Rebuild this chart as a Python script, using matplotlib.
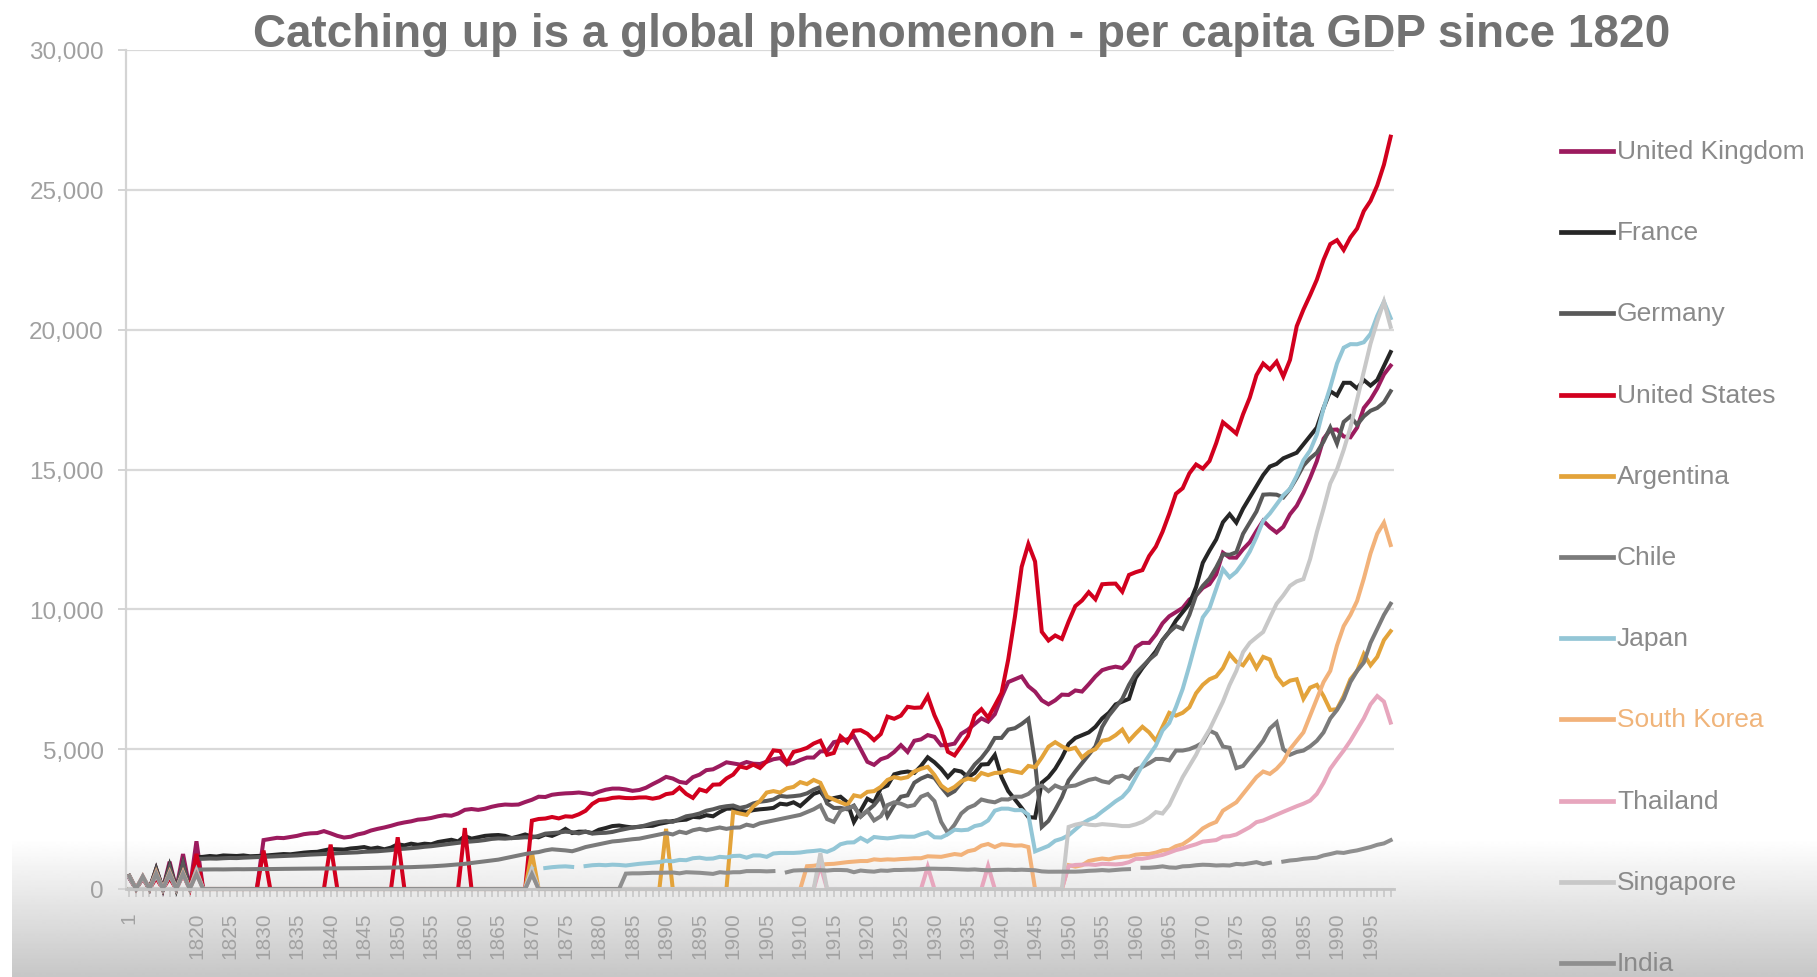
import numpy as np
import matplotlib.pyplot as plt
from matplotlib.lines import Line2D
from matplotlib.patches import Rectangle

plt.rcParams['font.family'] = ['Liberation Sans', 'DejaVu Sans']

# categories: a few early benchmark years, then annual 1820-1998
early_years = ['1', '', '1000', '', '1500', '', '1600', '', '1700', '']
years = early_years + [str(y) for y in range(1820, 1999)]

nan = np.nan
z = [0]  # empty cells in the sheet are plotted as zero

uk = ([400, 0, 400, 0, 714, 0, 974, 0, 1250, 0]
      + [1706] + z * 9
      + [1749, 1790, 1830, 1820, 1860, 1900, 1960, 1990, 2000, 2070]
      + [1990, 1900, 1840, 1870, 1950, 2000, 2090, 2150, 2200, 2260]
      + [2330, 2380, 2420, 2480, 2500, 2540, 2600, 2640, 2620, 2700]
      + [2830, 2860, 2830, 2870, 2940, 2990, 3020, 3010, 3020, 3110]
      + [3190, 3300, 3290, 3370, 3400, 3420, 3430, 3450, 3420, 3380]
      + [3477, 3550, 3590, 3590, 3560, 3510, 3540, 3620, 3750, 3870]
      + [4009, 3950, 3830, 3790, 4000, 4090, 4250, 4280, 4400, 4530]
      + [4492, 4450, 4540, 4480, 4470, 4550, 4640, 4680, 4470, 4500]
      + [4611, 4700, 4700, 4921, 4927, 5250, 5300, 5350, 5459, 5000]
      + [4548, 4439, 4640, 4720, 4900, 5144, 4900, 5300, 5350, 5503]
      + [5441, 5138, 5148, 5200, 5550, 5700, 5900, 6100, 5983, 6250]
      + [6856, 7400, 7500, 7600, 7250, 7056, 6746, 6604, 6746, 6950]
      + [6939, 7100, 7060, 7320, 7600, 7825, 7900, 7950, 7900, 8150]
      + [8645, 8800, 8800, 9100, 9500, 9752, 9900, 10050, 10350, 10500]
      + [10767, 10900, 11250, 12025, 11850, 11847, 12150, 12400, 12800, 13167]
      + [12931, 12747, 12950, 13400, 13700, 14165, 14700, 15300, 16100, 16414]
      + [16430, 16180, 16150, 16500, 17200, 17500, 17900, 18400, 18714])

france = ([473, 0, 425, 0, 727, 0, 841, 0, 910, 0]
          + [1135, 1150, 1180, 1160, 1200, 1190, 1180, 1200, 1170, 1180]
          + [1190, 1210, 1230, 1250, 1240, 1270, 1300, 1320, 1330, 1380]
          + [1428, 1420, 1410, 1450, 1470, 1500, 1440, 1480, 1420, 1480]
          + [1597, 1560, 1620, 1580, 1620, 1600, 1680, 1720, 1760, 1700]
          + [1892, 1800, 1850, 1900, 1920, 1930, 1900, 1820, 1880, 1950]
          + [1876, 1850, 1950, 1900, 2000, 2150, 2000, 2050, 2050, 2000]
          + [2120, 2180, 2250, 2270, 2230, 2200, 2230, 2250, 2260, 2330]
          + [2376, 2430, 2460, 2480, 2580, 2560, 2640, 2600, 2750, 2870]
          + [2876, 2800, 2760, 2820, 2850, 2870, 2900, 3050, 3020, 3100]
          + [2965, 3180, 3400, 3485, 3160, 3250, 3300, 3100, 2396, 2800]
          + [3227, 3100, 3600, 3700, 4100, 4166, 4200, 4150, 4400, 4710]
          + [4532, 4300, 4000, 4250, 4200, 4000, 4150, 4450, 4466, 4793]
          + [4000, 3500, 3200, 2900, 2573, 2550, 3800, 4000, 4300, 4700]
          + [5186, 5400, 5500, 5600, 5800, 6100, 6300, 6600, 6700, 6800]
          + [7546, 7900, 8200, 8500, 8900, 9200, 9600, 9900, 10200, 10800]
          + [11664, 12100, 12500, 13114, 13400, 13100, 13600, 14000, 14400, 14800]
          + [15106, 15200, 15400, 15500, 15600, 15900, 16200, 16500, 17200, 17800]
          + [17647, 18100, 18100, 17900, 18200, 18000, 18200, 18700, 19200])

germany = ([408, 0, 410, 0, 688, 0, 791, 0, 910, 0]
           + [1077, 1080, 1090, 1085, 1100, 1110, 1105, 1120, 1130, 1140]
           + [1150, 1160, 1170, 1180, 1190, 1200, 1215, 1230, 1240, 1250]
           + [1260, 1280, 1290, 1300, 1310, 1330, 1340, 1350, 1370, 1390]
           + [1428, 1440, 1460, 1480, 1510, 1530, 1560, 1590, 1620, 1650]
           + [1680, 1700, 1720, 1750, 1790, 1810, 1800, 1820, 1830, 1850]
           + [1839, 1900, 1980, 2000, 2020, 2050, 2030, 1990, 2050, 1980]
           + [2000, 2010, 2040, 2100, 2150, 2200, 2220, 2280, 2350, 2400]
           + [2428, 2400, 2500, 2600, 2640, 2700, 2800, 2850, 2920, 2960]
           + [2985, 2900, 2950, 3060, 3120, 3150, 3200, 3330, 3300, 3320]
           + [3348, 3420, 3550, 3648, 3059, 2900, 2900, 2850, 2983, 2586]
           + [2796, 3000, 3300, 2600, 3000, 3300, 3350, 3800, 3950, 4051]
           + [3973, 3652, 3362, 3500, 3800, 4120, 4450, 4685, 4994, 5400]
           + [5403, 5700, 5750, 5900, 6084, 4514, 2217, 2436, 2834, 3282]
           + [3881, 4200, 4500, 4800, 5100, 5797, 6200, 6500, 6800, 7300]
           + [7705, 7950, 8200, 8400, 8900, 9186, 9400, 9300, 9800, 10500]
           + [10839, 11100, 11500, 11966, 11950, 12041, 12700, 13100, 13500, 14100]
           + [14114, 14100, 14000, 14300, 14700, 15140, 15400, 15600, 16000, 16500]
           + [15929, 16700, 16900, 16600, 16900, 17100, 17200, 17400, 17799])

usa = ([400, 0, 400, 0, 400, 0, 400, 0, 527, 0]
       + [1257] + z * 9 + [1376] + z * 9 + [1588] + z * 9
       + [1849] + z * 9 + [2178] + z * 9
       + [2445, 2503, 2520, 2575, 2524, 2599, 2584, 2671, 2797, 3042]
       + [3184, 3203, 3258, 3278, 3252, 3247, 3272, 3275, 3230, 3274]
       + [3392, 3429, 3627, 3399, 3257, 3561, 3489, 3730, 3740, 3953]
       + [4091, 4380, 4325, 4448, 4327, 4568, 4957, 4930, 4494, 4903]
       + [4964, 5046, 5201, 5301, 4799, 4864, 5460, 5248, 5659, 5680]
       + [5552, 5323, 5540, 6164, 6087, 6198, 6514, 6478, 6491, 6899]
       + [6213, 5691, 4908, 4777, 5114, 5467, 6204, 6430, 6126, 6561]
       + [7010, 8206, 9741, 11518, 12333, 11709, 9197, 8886, 9065, 8944]
       + [9561, 10116, 10316, 10613, 10359, 10897, 10914, 10920, 10631, 11230]
       + [11328, 11402, 11905, 12242, 12773, 13419, 14134, 14330, 14863, 15179]
       + [15030, 15304, 15944, 16689, 16491, 16284, 16975, 17567, 18373, 18789]
       + [18577, 18856, 18325, 18920, 20123, 20717, 21236, 21788, 22499, 23059]
       + [23201, 22849, 23298, 23616, 24241, 24605, 25157, 25900, 26900])

argentina = (z * 10 + z * 50 + [1311] + z * 19 + [2152] + z * 9
             + [2756, 2700, 2650, 2950, 3150, 3450, 3500, 3450, 3600, 3650]
             + [3822, 3750, 3900, 3797, 3300, 3200, 3100, 3000, 3350, 3300]
             + [3473, 3500, 3650, 3900, 4000, 3950, 4000, 4200, 4300, 4367]
             + [4080, 3700, 3522, 3650, 3850, 3950, 3900, 4150, 4072, 4150]
             + [4161, 4250, 4200, 4150, 4400, 4356, 4700, 5089, 5250, 5100]
             + [4987, 5050, 4700, 4900, 5000, 5300, 5350, 5500, 5700, 5300]
             + [5559, 5800, 5600, 5300, 5800, 6300, 6200, 6300, 6500, 7000]
             + [7302, 7500, 7600, 7900, 8400, 8122, 8000, 8350, 7900, 8300]
             + [8206, 7600, 7300, 7450, 7500, 6800, 7200, 7300, 6900, 6400]
             + [6433, 6900, 7500, 7800, 8400, 8000, 8300, 8900, 9219])

chile = (z * 10
         + [694, 698, 700, 702, 700, 705, 708, 706, 710, 712]
         + [715, 713, 718, 720, 722, 725, 723, 728, 730, 733]
         + [735, 738, 740, 742, 745, 748, 750, 755, 760, 765]
         + [770, 775, 782, 790, 800, 810, 825, 840, 860, 880]
         + [900, 930, 960, 990, 1020, 1050, 1100, 1150, 1200, 1250]
         + [1290, 1320, 1380, 1420, 1400, 1380, 1350, 1420, 1500, 1550]
         + [1600, 1650, 1700, 1720, 1750, 1780, 1800, 1850, 1900, 1950]
         + [2000, 1950, 2050, 2000, 2100, 2150, 2100, 2150, 2200, 2150]
         + [2194, 2200, 2300, 2250, 2350, 2400, 2450, 2500, 2550, 2600]
         + [2650, 2750, 2850, 2988, 2500, 2400, 2800, 2900, 2950, 2600]
         + [2800, 2450, 2600, 3000, 3100, 3050, 2950, 3000, 3300, 3396]
         + [3143, 2400, 2000, 2300, 2700, 2900, 3000, 3200, 3139, 3100]
         + [3206, 3200, 3300, 3300, 3400, 3600, 3700, 3500, 3700, 3600]
         + [3670, 3700, 3800, 3900, 3950, 3850, 3800, 4000, 4050, 3950]
         + [4270, 4370, 4500, 4650, 4650, 4600, 4950, 4950, 5000, 5100]
         + [5231, 5663, 5550, 5093, 5050, 4323, 4400, 4700, 4990, 5300]
         + [5738, 5956, 5000, 4800, 4900, 4950, 5100, 5300, 5600, 6100]
         + [6402, 6800, 7400, 7800, 8100, 8800, 9300, 9800, 10200])

japan = ([400, 0, 425, 0, 500, 0, 520, 0, 570, 0]
         + [669] + z * 49
         + [737, nan, 750, 780, 800, 810, 790, nan, 820, 850]
         + [863, 850, 870, 860, 840, 870, 900, 920, 940, 960]
         + [1012, 990, 1040, 1030, 1100, 1120, 1080, 1090, 1150, 1130]
         + [1180, 1190, 1120, 1200, 1200, 1150, 1270, 1290, 1290, 1290]
         + [1304, 1340, 1360, 1387, 1330, 1430, 1600, 1660, 1668, 1827]
         + [1696, 1860, 1830, 1810, 1840, 1880, 1870, 1870, 1960, 2026]
         + [1850, 1840, 1960, 2120, 2100, 2120, 2250, 2300, 2450, 2800]
         + [2874, 2873, 2818, 2822, 2659, 1346, 1444, 1541, 1725, 1800]
         + [1921, 2126, 2336, 2474, 2582, 2771, 2948, 3136, 3289, 3554]
         + [3986, 4426, 4777, 5129, 5668, 5934, 6506, 7152, 7983, 8874]
         + [9714, 10040, 10734, 11434, 11145, 11344, 11669, 12064, 12585, 13163]
         + [13428, 13754, 14078, 14307, 14773, 15331, 15679, 16251, 17185, 17943]
         + [18789, 19355, 19482, 19478, 19550, 19849, 20494, 21000, 20413])

south_korea = ([450, 0, 450, 0, 600, 0, 600, 0, 600, 0]
               + [600] + z * 49 + [604] + z * 40
               + [815, 830, 869, 890, 900, 930, 960, 980, 1000]
               + [1000, 1060, 1040, 1060, 1050, 1070, 1080, 1100, 1100, 1170]
               + [1160, 1150, 1200, 1250, 1220, 1350, 1400, 1550, 1610, 1500]
               + [1600, 1580, 1550, 1560, 1500, 0, 0, 0, 0, 0]
               + [854, 800, 850, 1000, 1050, 1090, 1060, 1120, 1150, 1160]
               + [1226, 1250, 1250, 1300, 1380, 1400, 1530, 1600, 1760, 1950]
               + [2167, 2300, 2400, 2800, 2950, 3100, 3400, 3700, 4000, 4200]
               + [4114, 4300, 4560, 5000, 5300, 5600, 6200, 6800, 7400, 7800]
               + [8704, 9400, 9800, 10300, 11100, 12000, 12700, 13100, 12300])

thailand = ([450, 0, 450, 0, 550, 0, 550, 0, 550, 0]
            + [570] + z * 49 + [608] + z * 42 + [841] + z * 15
            + [793] + z * 8 + [826] + z * 11
            + [817, 860, 870, 880, 860, 900, 890, 880, 900, 960]
            + [1078, 1080, 1120, 1170, 1220, 1300, 1390, 1450, 1530, 1600]
            + [1694, 1720, 1750, 1870, 1890, 1950, 2080, 2210, 2390, 2450]
            + [2554, 2660, 2760, 2860, 2960, 3050, 3160, 3400, 3800, 4300]
            + [4633, 4950, 5300, 5700, 6100, 6600, 6900, 6700, 5950])

singapore = (z * 10 + z * 50 + [682] + z * 42 + [1279] + z * 36
             + [2219, 2300, 2350, 2300, 2280, 2320, 2300, 2280, 2250, 2250]
             + [2310, 2400, 2550, 2750, 2700, 3000, 3500, 4000, 4400, 4800]
             + [5300, 5700, 6200, 6700, 7300, 7800, 8470, 8800, 9000, 9190]
             + [9700, 10200, 10500, 10840, 11000, 11080, 11800, 12760, 13600, 14500]
             + [15000, 15700, 16500, 17500, 18500, 19500, 20300, 21000, 20100])

india = ([450, 0, 450, 0, 550, 0, 550, 0, 550, 0]
         + [533] + z * 49 + [533] + z * 13
         + [550, 560, 560, 570, 580, 580]
         + [584, 590, 560, 600, 590, 580, 560, 540, 600, 580]
         + [599, 600, 640, 640, 640, 630, 640, nan, 600, 660]
         + [670, 670, 670, 673, 660, 680, 680, 670, 600, 660]
         + [635, 620, 660, 650, 680, 680, 690, 690, 710, 728]
         + [726, 720, 720, 710, 700, 690, 700, 680, 668, 680]
         + [686, 690, 680, 690, 680, 670, 630, 618, 620, 620]
         + [619, 620, 630, 650, 660, 676, 660, 680, 700, 710]
         + [nan, 760, 760, 780, 810, 771, 760, 810, 820, 850]
         + [868, 860, 840, 850, 840, 897, 880, 920, 960, 890]
         + [938, nan, 980, 1020, 1040, 1079, 1100, 1120, 1200, 1250]
         + [1309, 1290, 1340, 1380, 1440, 1500, 1580, 1630, 1746])

names = ['United Kingdom', 'France', 'Germany', 'United States', 'Argentina', 'Chile',
         'Japan', 'South Korea', 'Thailand', 'Singapore', 'India']
series = [uk, france, germany, usa, argentina, chile,
          japan, south_korea, thailand, singapore, india]
colors = ['#9c1b5e', '#262626', '#595959', '#d2001e', '#e3a33a', '#7b7b7b',
          '#93c6d6', '#f2b27a', '#e7a6bd', '#c8c8c8', '#8f8f8f']

for s in series:
    assert len(s) == len(years), len(s)

fig = plt.figure(figsize=(18.17, 9.78), dpi=100)

# washed grey band at the bottom of the frame
bg = fig.add_axes([0, 0, 1, 1], zorder=-10)
bg.axis('off')
yy = np.linspace(1, 0, 978)
shade = np.where(yy < 0.14, 1 - (0.14 - yy) / 0.14 * 0.22, 1.0)
img = np.repeat(shade[:, None], 2, axis=1)
bg.imshow(img, cmap='gray', vmin=0, vmax=1, extent=[0, 1, 0, 1], aspect='auto')
bg.add_patch(Rectangle((0, 0), 12 / 1817, 0.14, color='white', lw=0))
bg.set_xlim(0, 1)
bg.set_ylim(0, 1)

ax = fig.add_axes([126 / 1817, 1 - 890 / 978, 1268 / 1817, 839 / 978])
ax.set_facecolor('none')

x = np.arange(len(years))
for s, name, c in zip(series, names, colors):
    ax.plot(x, s, color=c, lw=2.9, solid_joinstyle='miter', clip_on=False, label=name)

ax.set_xlim(-0.5, len(years) - 0.5)
ax.set_ylim(0, 30000)
ax.set_yticks(range(0, 30001, 5000))
ax.set_yticklabels([f'{v:,}' for v in range(0, 30001, 5000)])
ax.yaxis.grid(True, color='#d9d9d9', lw=1.6)
ax.set_axisbelow(True)

ax.set_xticks(x)
ax.set_xticklabels([lab if i % 5 == 0 else '' for i, lab in enumerate(years)],
                   rotation=90)
ax.tick_params(axis='x', length=6, width=1.1, color='#c4c4c4', pad=10,
               labelsize=15, labelcolor='#a2a2a2')
ax.tick_params(axis='y', length=6, width=1.4, color='#d4d4d4', pad=10,
               labelsize=17.5, labelcolor='#a0a0a0')
for side in ['top', 'right']:
    ax.spines[side].set_visible(False)
ax.spines['left'].set_color('#d4d4d4')
ax.spines['left'].set_linewidth(1.6)
ax.spines['bottom'].set_color('#c4c4c4')
ax.spines['bottom'].set_linewidth(2)

fig.text(962 / 1817, 1 - 35 / 978,
         'Catching up is a global phenomenon - per capita GDP since 1820',
         ha='center', va='center', fontsize=33, fontweight='bold', color='#727272')

# legend on the right
for i, (name, c) in enumerate(zip(names, colors)):
    ypos = 1 - (152 + i * 81.2) / 978
    fig.add_artist(Line2D([1561 / 1817, 1613 / 1817], [ypos, ypos], color=c, lw=3.4,
                          transform=fig.transFigure))
    fig.text(1617 / 1817, ypos, name, ha='left', va='center', fontsize=19,
             color='#f0b47a' if name == 'South Korea' else '#8a8a8a')

fig.savefig('out.png', dpi=100)
